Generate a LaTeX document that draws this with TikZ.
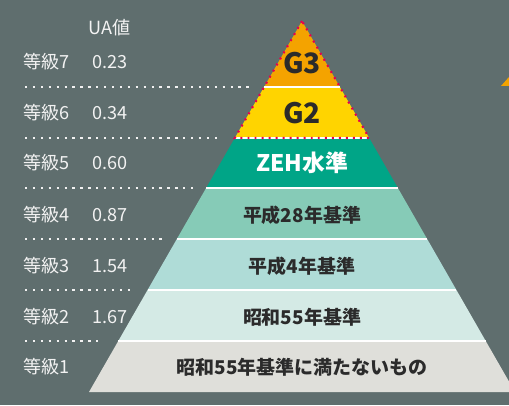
\documentclass[tikz,border=0pt]{standalone}
\usepackage{fontspec}
\setmainfont{Noto Sans CJK JP}
\usetikzlibrary{calc}
\definecolor{bgteal}{HTML}{5F6E6E}
\definecolor{labelwhite}{HTML}{F2F2F2}
\definecolor{tiertext}{HTML}{2B2B2B}
\definecolor{tierseven}{HTML}{F4A300}
\definecolor{tiersix}{HTML}{FFD400}
\definecolor{tierfive}{HTML}{00A587}
\definecolor{tierfour}{HTML}{86CBB7}
\definecolor{tierthree}{HTML}{AFDCD7}
\definecolor{tiertwo}{HTML}{D4EAE5}
\definecolor{tierone}{HTML}{DFDFDA}
\definecolor{dotred}{HTML}{E5004F}
\tikzset{
  grade/.style={text=labelwhite, anchor=west, inner sep=0pt, font=\fontsize{10.3}{12}\selectfont},
  tier/.style={text=tiertext, font=\bfseries\fontsize{10.8}{12}\selectfont},
  sepdots/.style={labelwhite, line width=1.3pt, dash pattern=on 1.3pt off 3.2pt},
  redline/.style={dotred, line width=1.2pt, dash pattern=on 1.1pt off 2.9pt},
}
\begin{document}
\begin{tikzpicture}[x=0.02cm, y=-0.02cm]
    \fill[bgteal] (0,0) rectangle (509,405);
    \useasboundingbox (0,0) rectangle (509,405);
    \coordinate (apex) at (302,21);
    \coordinate (bl) at (89,392);
    \coordinate (br) at (515,392);

    \foreach \ya/\yb/\col in {341/392/tierone, 290/341/tiertwo, 239/290/tierthree, 188/239/tierfour, 138/188/tierfive, 87/138/tiersix, 21/87/tierseven}
        \fill[\col] ($(apex)!{(\ya-21)/371}!(bl)$) -- ($(apex)!{(\yb-21)/371}!(bl)$) -- ($(apex)!{(\yb-21)/371}!(br)$) -- ($(apex)!{(\ya-21)/371}!(br)$) -- cycle;

    \foreach \y in {87,138,188,239,290,341}
        \draw[white, line width=0.9pt] ($(apex)!{(\y-21)/371}!(bl)$) -- ($(apex)!{(\y-21)/371}!(br)$);
    \draw[redline] (apex) -- ($(apex)!{117/371}!(bl)$) -- ($(apex)!{117/371}!(br)$) -- cycle;

    \fill[tierseven] (501,86) -- (509,77) -- (509,86) -- cycle;

    \foreach \y/\xe in {87/250,138/220,188/195,239/163,290/130,341/98}
        \draw[sepdots] (25,\y) -- (\xe,\y);

    \node[grade] (uahead) at (88,28) {UA値};
    \foreach \n/\y/\ua in {7/62/0.23, 6/113/0.34, 5/163/0.60, 4/215/0.87, 3/266/1.54, 2/317/1.67} {
        \node[grade] (grade\n) at (23,\y) {等級\n};
        \node[grade] (ua\n) at (92,\y) {\ua};
    }
    \node[grade] (grade1) at (23,367) {等級1};

    \node[tier, font=\bfseries\fontsize{16}{18}\selectfont] (gthree) at (302,63) {G3};
    \node[tier, font=\bfseries\fontsize{16}{18}\selectfont] (gtwo) at (302,113) {G2};
    \node[tier, text=white, font=\bfseries\fontsize{13}{15}\selectfont] (zeh) at (302,163) {ZEH水準};
    \node[tier] (hsei28) at (302,215) {平成28年基準};
    \node[tier] (hsei4) at (302,266) {平成4年基準};
    \node[tier] (shwa55) at (302,317) {昭和55年基準};
    \node[tier] (below55) at (302,367) {昭和55年基準に満たないもの};
\end{tikzpicture}
\end{document}
